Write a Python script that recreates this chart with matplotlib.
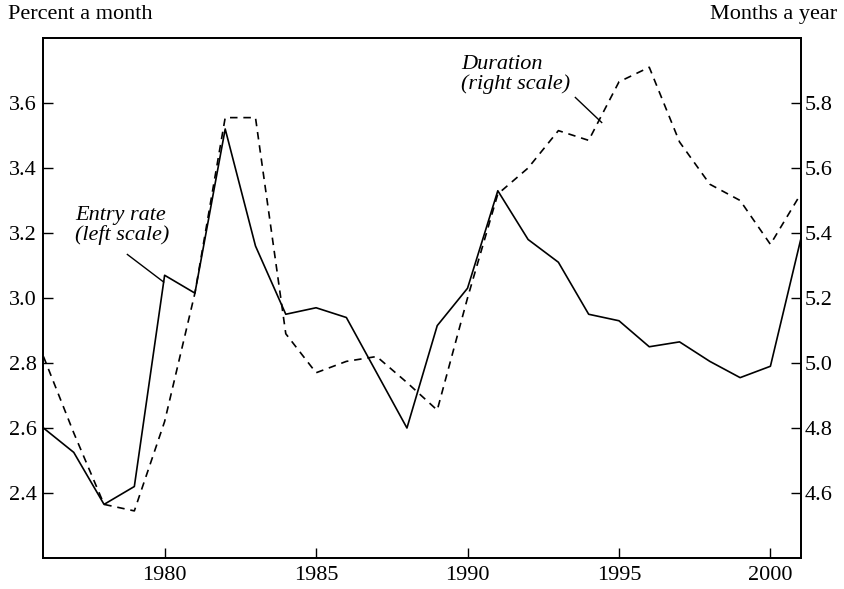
import numpy as np
import matplotlib
matplotlib.use("Agg")
import matplotlib.pyplot as plt

years = list(range(1976, 2002))
# monthly entry rate into unemployment, percent (left scale)
entry_rate = [2.60, 2.525, 2.365, 2.42, 3.07, 3.015, 3.52, 3.16, 2.95, 2.97,
              2.94, 2.77, 2.60, 2.915, 3.03, 3.33, 3.18, 3.11, 2.95, 2.93,
              2.85, 2.865, 2.805, 2.755, 2.79, 3.18]
# expected duration, months a year (right scale)
duration = [5.02, 4.785, 4.565, 4.545, 4.82, 5.215, 5.755, 5.755, 5.09, 4.97,
            5.005, 5.02, 4.94, 4.855, 5.20, 5.52, 5.60, 5.715, 5.685, 5.865,
            5.91, 5.68, 5.55, 5.50, 5.365, 5.52]

plt.rcParams["font.family"] = ["Liberation Serif", "DejaVu Serif"]
plt.rcParams["font.size"] = 16

fig = plt.figure(figsize=(8.44, 5.89), dpi=100)
ax = fig.add_axes([0.0515, 0.0526, 0.8972, 0.8829])
ax2 = ax.twinx()

ax.plot(years, entry_rate, color="black", lw=1.2)
ax2.plot(years, duration, color="black", lw=1.2, dashes=(4.5, 3.5))

ax.set_xlim(1976, 2001)
ax.set_ylim(2.2, 3.8)
ax2.set_ylim(4.4, 6.0)

ax.set_xticks([1980, 1985, 1990, 1995, 2000])
ax.set_yticks([2.4, 2.6, 2.8, 3.0, 3.2, 3.4, 3.6])
ax.set_yticklabels(["%.1f" % v for v in ax.get_yticks()])
ax2.set_yticks([4.6, 4.8, 5.0, 5.2, 5.4, 5.6, 5.8])
ax2.set_yticklabels(["%.1f" % v for v in ax2.get_yticks()])

ax.tick_params(axis="both", direction="in", length=7, width=1, top=False)
ax.tick_params(axis="y", pad=5)
ax.tick_params(axis="x", pad=6)
ax2.tick_params(axis="y", direction="in", length=7, width=1, pad=3)
for a in (ax, ax2):
    for s in a.spines.values():
        s.set_linewidth(1.3)

fig.text(0.009, 0.976, "Percent a month", ha="left", va="center")
fig.text(0.992, 0.976, "Months a year", ha="right", va="center")

ax.text(1977.05, 3.282, "Entry rate\n(left scale)", style="italic",
        ha="left", va="top", linespacing=1.0)
ax.plot([1978.77, 1979.97], [3.134, 3.049], color="black", lw=1.0)

ax.text(1989.8, 3.748, "Duration\n(right scale)", style="italic",
        ha="left", va="top", linespacing=1.0)
ax.plot([1993.56, 1994.43], [3.617, 3.54], color="black", lw=1.0)

fig.savefig("out.png", dpi=100)
